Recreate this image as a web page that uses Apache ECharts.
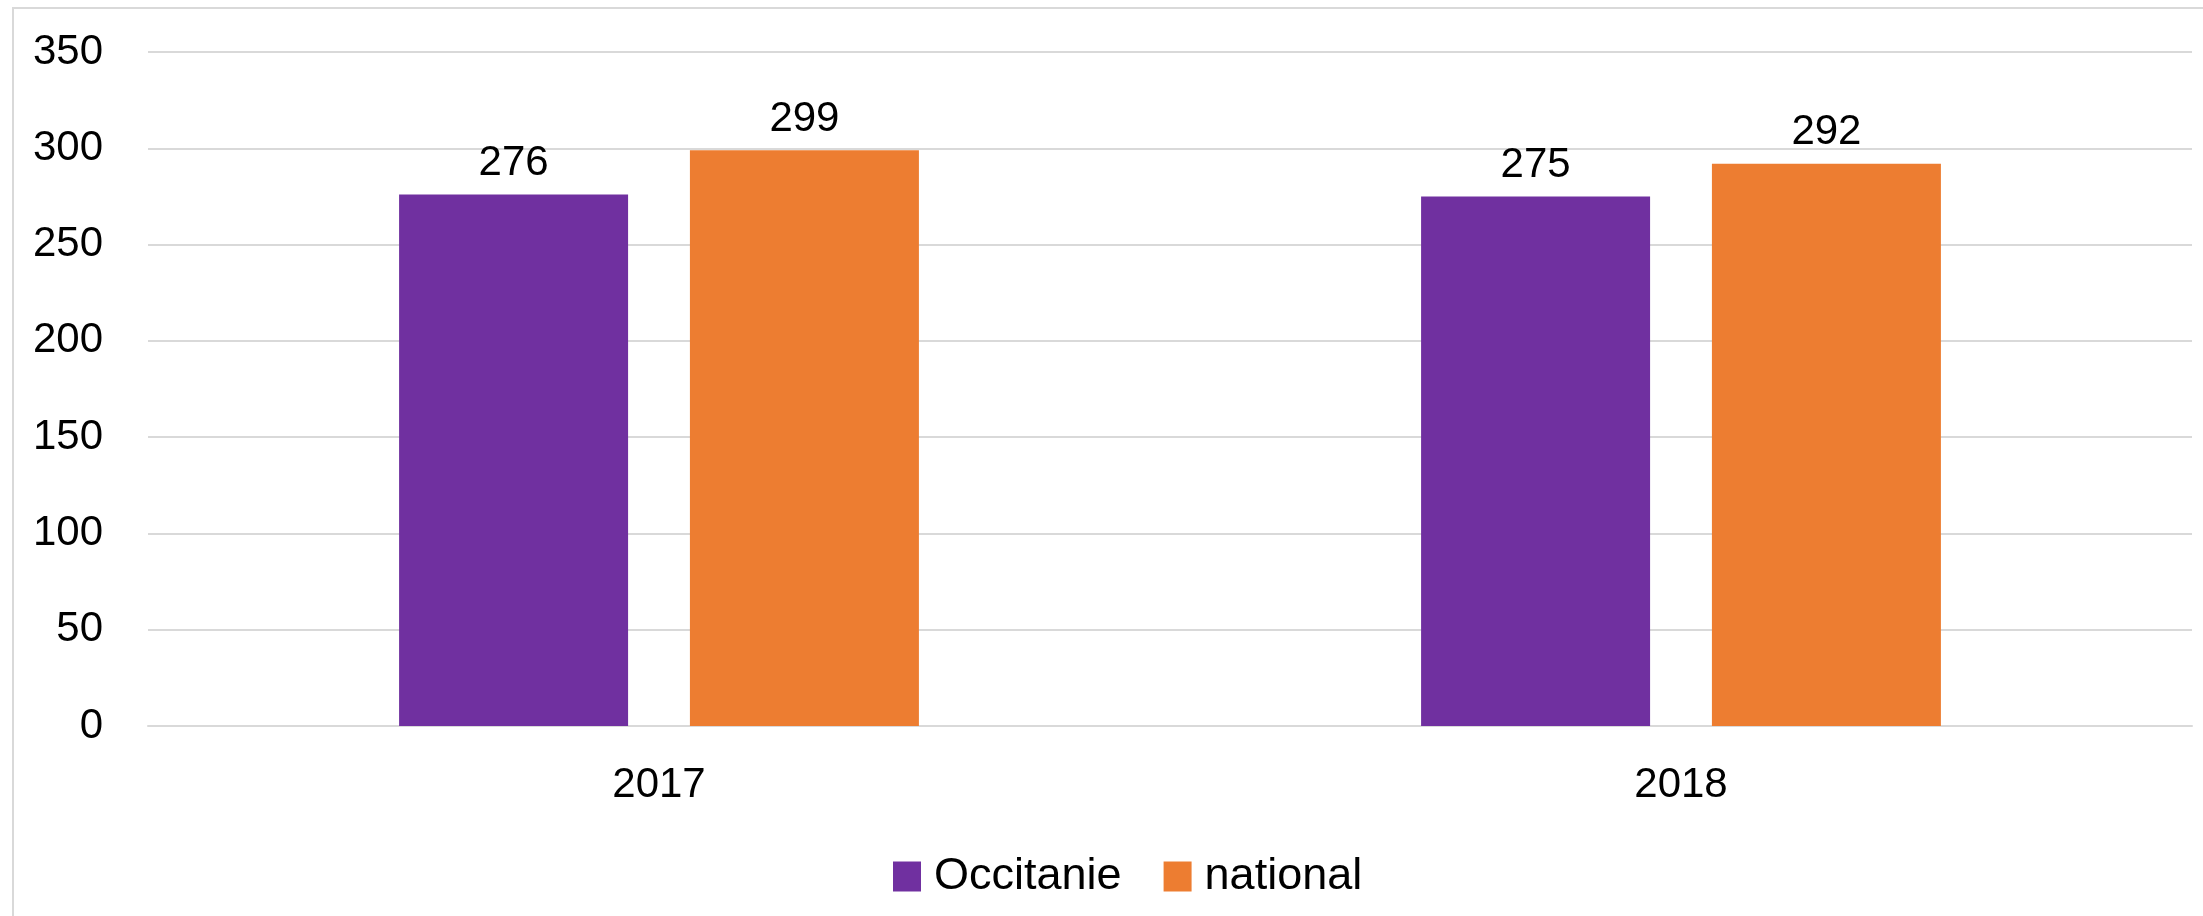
<!DOCTYPE html>
<html>
<head>
<meta charset="utf-8">
<script src="https://cdn.jsdelivr.net/npm/echarts@6/dist/echarts.min.js"></script>
<style>
html,body{margin:0;padding:0;background:#fff;}
#chart{width:2203px;height:916px;}
</style>
</head>
<body>
<div id="chart"></div>
<script>
const categories = ['2017', '2018'];
const occitanie = [276, 275];
const national = [299, 292];
const seriesNames = ['Occitanie', 'national'];

const FONT = 'Liberation Sans';
const chart = echarts.init(document.getElementById('chart'));
chart.setOption({
  backgroundColor: '#fff',
  animation: false,
  graphic: [{
    type: 'rect',
    shape: {x: 13, y: 8, width: 2220, height: 940},
    style: {fill: 'none', stroke: '#d9d9d9', lineWidth: 2},
    silent: true
  }],
  grid: {left: 148, right: 11, top: 52, bottom: 190, containLabel: false},
  legend: {
    data: seriesNames,
    bottom: 12,
    left: 888,
    itemWidth: 28,
    itemHeight: 30,
    itemGap: 42,
    icon: 'rect',
    textStyle: {fontFamily: FONT, fontSize: 45, color: '#000', padding: [0, 0, 0, 8]}
  },
  xAxis: {
    type: 'category',
    data: categories,
    axisLine: {show: true, lineStyle: {color: '#d9d9d9', width: 2}},
    axisTick: {show: false},
    axisLabel: {fontFamily: FONT, fontSize: 42, color: '#000', margin: 38},
    splitLine: {show: false}
  },
  yAxis: {
    type: 'value',
    min: 0,
    max: 350,
    interval: 50,
    axisLine: {show: false},
    axisTick: {show: false},
    axisLabel: {fontFamily: FONT, fontSize: 42, color: '#000', margin: 45},
    splitLine: {lineStyle: {color: '#d9d9d9', width: 2}}
  },
  series: [
    {
      name: seriesNames[0],
      type: 'bar',
      data: occitanie,
      barWidth: 229,
      barGap: '27%',
      itemStyle: {color: '#7030a0'},
      label: {show: true, position: 'top', distance: 10, fontFamily: FONT, fontSize: 42, color: '#000'}
    },
    {
      name: seriesNames[1],
      type: 'bar',
      data: national,
      barWidth: 229,
      barGap: '27%',
      itemStyle: {color: '#ed7d31'},
      label: {show: true, position: 'top', distance: 10, fontFamily: FONT, fontSize: 42, color: '#000'}
    }
  ]
});
</script>
</body>
</html>
